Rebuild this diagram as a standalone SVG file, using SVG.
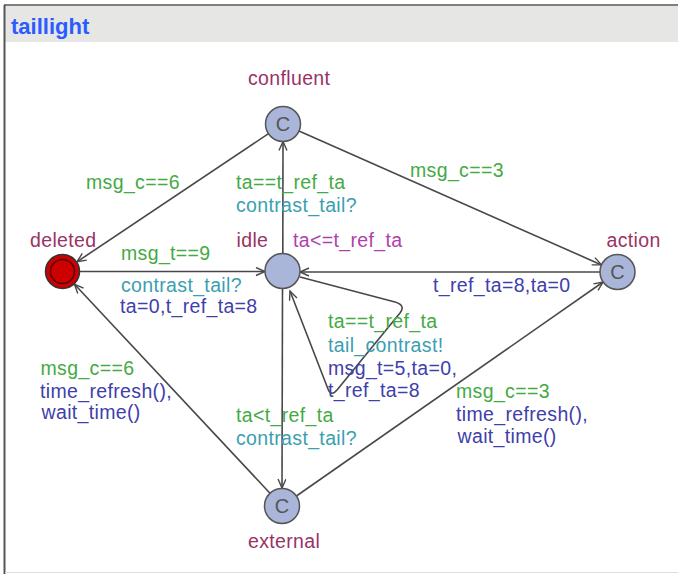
<svg xmlns="http://www.w3.org/2000/svg" width="678" height="574" viewBox="0 0 678 574">
<style>
text{font-family:"Liberation Sans",Arial,sans-serif;font-size:19.5px;letter-spacing:0.35px}
.nm{fill:#993366}
.inv{fill:#b040b0}
.gd{fill:#44aa44}
.sy{fill:#3aa0b0}
.as{fill:#4040aa}
.st{fill:#a9b5d9;stroke:#555;stroke-width:1.5}
.c{fill:#555;font-size:20px;text-anchor:middle;letter-spacing:0}
.e{fill:none;stroke:#484848;stroke-width:1.6;marker-end:url(#ah)}
</style>
<defs>
<marker id="ah" markerUnits="userSpaceOnUse" markerWidth="12" markerHeight="10" refX="10" refY="4.5" orient="auto">
<path d="M1,0.5 L10,4.5 L1,8.5" fill="none" stroke="#484848" stroke-width="1.4"/>
</marker>
</defs>
<rect x="0" y="0" width="678" height="574" fill="#fff"/>
<g id="frame">
<rect x="5" y="6" width="673" height="36" fill="#e6e6e4"/>
<line x1="4" y1="5" x2="678" y2="5" stroke="#555" stroke-width="1.5"/>
<line x1="4.5" y1="5" x2="4.5" y2="574" stroke="#555" stroke-width="2"/>
<line x1="5" y1="572.5" x2="678" y2="572.5" stroke="#ddd" stroke-width="1"/>
<text x="11" y="34" style="font-size:22px;font-weight:bold;fill:#2a5cff;letter-spacing:0">taillight</text>
</g>
<g id="connectors">
<g id="e-confluent-deleted">
<line class="e" x1="268.5" y1="133.7" x2="77" y2="261.8"/>
<text class="gd" x="86" y="189">msg_c==6</text>
</g>
<g id="e-confluent-action">
<line class="e" x1="299" y1="131" x2="601.5" y2="264.9"/>
<text class="gd" x="410" y="177">msg_c==3</text>
</g>
<g id="e-idle-confluent">
<line class="e" x1="282.8" y1="253.5" x2="283" y2="141.5"/>
<text class="gd" x="236" y="189">ta==t_ref_ta</text>
<text class="sy" x="236" y="211.5">contrast_tail?</text>
</g>
<g id="e-deleted-idle">
<line class="e" x1="80" y1="271.5" x2="265" y2="271.5"/>
<text class="gd" x="121" y="260">msg_t==9</text>
<text class="sy" x="121" y="291.5">contrast_tail?</text>
<text class="as" x="120" y="313">ta=0,t_ref_ta=8</text>
</g>
<g id="e-action-idle">
<line class="e" x1="600" y1="272" x2="300" y2="272"/>
<text class="as" x="433" y="291.5">t_ref_ta=8,ta=0</text>
</g>
<g id="e-idle-idle">
<path class="e" d="M300,277 L395,302 Q406,305 400,313 L337,390 Q331,397 328,389 L290,291"/>
<text class="gd" x="328" y="328">ta==t_ref_ta</text>
<text class="sy" x="328" y="351.5">tail_contrast!</text>
<text class="as" x="328" y="375">msg_t=5,ta=0,</text>
<text class="as" x="328" y="396.5">t_ref_ta=8</text>
</g>
<g id="e-idle-external">
<line class="e" x1="282.5" y1="288.5" x2="282" y2="488"/>
<text class="gd" x="236" y="421.5">ta&lt;t_ref_ta</text>
<text class="sy" x="236" y="445">contrast_tail?</text>
</g>
<g id="e-external-deleted">
<line class="e" x1="270" y1="493.2" x2="74.5" y2="284.3"/>
<text class="gd" x="40.5" y="375">msg_c==6</text>
<text class="as" x="40" y="397.5">time_refresh(),</text>
<text class="as" x="41.5" y="419">wait_time()</text>
</g>
<g id="e-external-action">
<line class="e" x1="296.4" y1="496" x2="603.1" y2="282"/>
<text class="gd" x="456" y="398">msg_c==3</text>
<text class="as" x="456" y="421">time_refresh(),</text>
<text class="as" x="457.5" y="443">wait_time()</text>
</g>
</g>
<g id="confluent">
<circle class="st" cx="283" cy="124" r="17.5"/>
<text class="c" x="283" y="131">C</text>
<text class="nm" x="248" y="85">confluent</text>
</g>
<g id="deleted">
<circle cx="62.5" cy="271.5" r="17" fill="#cc0000" stroke="#333" stroke-width="1.5"/>
<circle cx="62.5" cy="271.5" r="12" fill="none" stroke="#550000" stroke-width="1.5"/>
<text class="nm" x="30" y="247">deleted</text>
</g>
<g id="idle">
<circle class="st" cx="282.5" cy="271" r="17.5"/>
<text class="nm" x="236.5" y="247">idle</text>
<text class="inv" x="293" y="247">ta&lt;=t_ref_ta</text>
</g>
<g id="action">
<circle class="st" cx="617.5" cy="272" r="17.5"/>
<text class="c" x="617.5" y="279">C</text>
<text class="nm" x="606.5" y="247">action</text>
</g>
<g id="external">
<circle class="st" cx="282" cy="506" r="17.5"/>
<text class="c" x="282" y="513">C</text>
<text class="nm" x="248" y="548">external</text>
</g>
</svg>
